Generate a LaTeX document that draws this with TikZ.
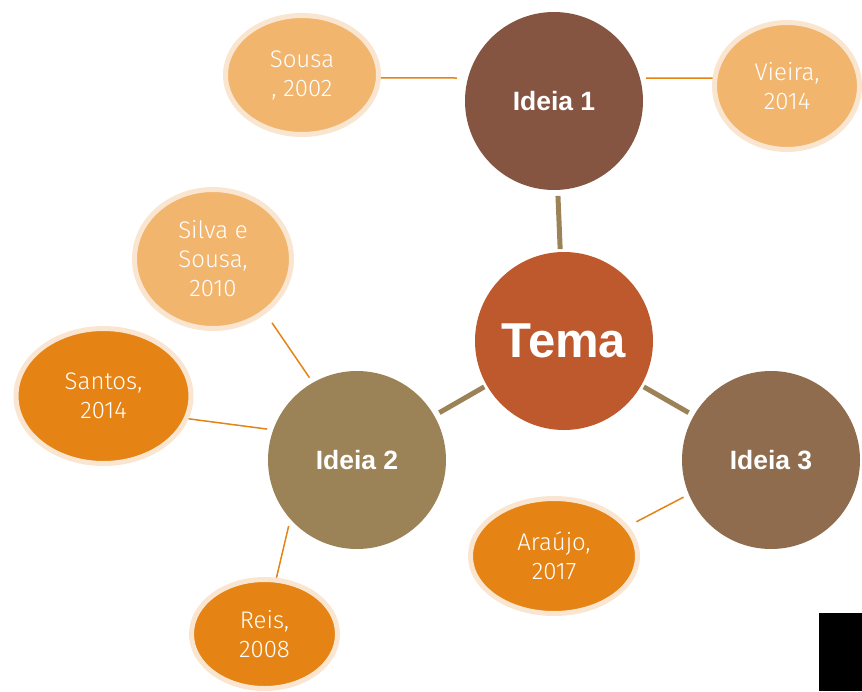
\documentclass[tikz,border=0pt]{standalone}
\usepackage{fontspec}
\setmainfont{Liberation Sans}
\newfontfamily\citefont{Fira Sans Light}
\usetikzlibrary{shapes.geometric}

\definecolor{temacolor}{RGB}{190,88,45}
\definecolor{ideiaumcolor}{RGB}{134,85,65}
\definecolor{ideiadoiscolor}{RGB}{156,130,87}
\definecolor{ideiatrescolor}{RGB}{143,108,78}
\definecolor{citelight}{RGB}{242,181,110}
\definecolor{citedark}{RGB}{229,131,20}
\definecolor{citeborder}{RGB}{250,230,208}
\definecolor{linkbrown}{RGB}{156,130,87}
\definecolor{linkorange}{RGB}{229,131,20}

\begin{document}
\begin{tikzpicture}[x=1pt,y=-1pt
  , ideia/.style={ circle
                 , minimum size = 178pt
                 , inner sep = 0pt
                 , outer sep = 6pt
                 , text = white
                 , font = \fontsize{26.5}{30}\selectfont\bfseries
                 }
  , cite/.style={ ellipse
                , draw = citeborder
                , line width = 5pt
                , inner sep = 0pt
                , align = center
                , text = white
                , font = \citefont\fontsize{24}{29}\selectfont
                }
  , thin link/.style={linkorange, line width=1.5pt}
  , thick link/.style={linkbrown, line width=5pt}
  ]

  \useasboundingbox (0,0) rectangle (862,691);

  \node (tema) [ideia, fill=temacolor, outer sep=3pt
               , font=\fontsize{49}{55}\selectfont\bfseries] at (564,341) {Tema};
  \node (ideia1) [ideia, fill=ideiaumcolor] at (554,101) {Ideia 1};
  \node (ideia2) [ideia, fill=ideiadoiscolor] at (357,460) {Ideia 2};
  \node (ideia3) [ideia, fill=ideiatrescolor] at (771,460) {Ideia 3};

  \node (sousa)  [cite, fill=citelight, minimum width=153pt, minimum height=119pt]
    at (302,75) {Sousa\\, 2002};
  \node (vieira) [cite, fill=citelight, minimum width=145pt, minimum height=127pt]
    at (787,86) {Vieira,\\2014};
  \node (silva)  [cite, fill=citelight, minimum width=157pt, minimum height=139pt]
    at (213,259) {Silva e\\Sousa,\\2010};
  \node (santos) [cite, fill=citedark, minimum width=175pt, minimum height=135pt]
    at (103.5,396) {Santos,\\2014};
  \node (reis)   [cite, fill=citedark, minimum width=146pt, minimum height=109pt]
    at (264.5,634) {Reis,\\2008};
  \node (araujo) [cite, fill=citedark, minimum width=167pt, minimum height=115pt]
    at (554,556) {Araújo,\\2017};

  \fill (819,613) rectangle (862,691);

  \draw [thick link] (ideia1) -- (tema);
  \draw [thick link] (tema) -- (ideia2);
  \draw [thick link] (tema) -- (ideia3);

  \draw [thin link, shorten >=5pt] (sousa.-2) -- (ideia1.166);
  \draw [thin link] (ideia1.14) -- (vieira.174);
  \draw [thin link, shorten <=11pt] (silva.-46) -- (ideia2.120);
  \draw [thin link] (santos.-15) -- (ideia2.161);
  \draw [thin link] (reis.78) -- (ideia2.224);
  \draw [thin link, shorten <=9pt] (araujo.22) -- (ideia3.203);

\end{tikzpicture}
\end{document}
